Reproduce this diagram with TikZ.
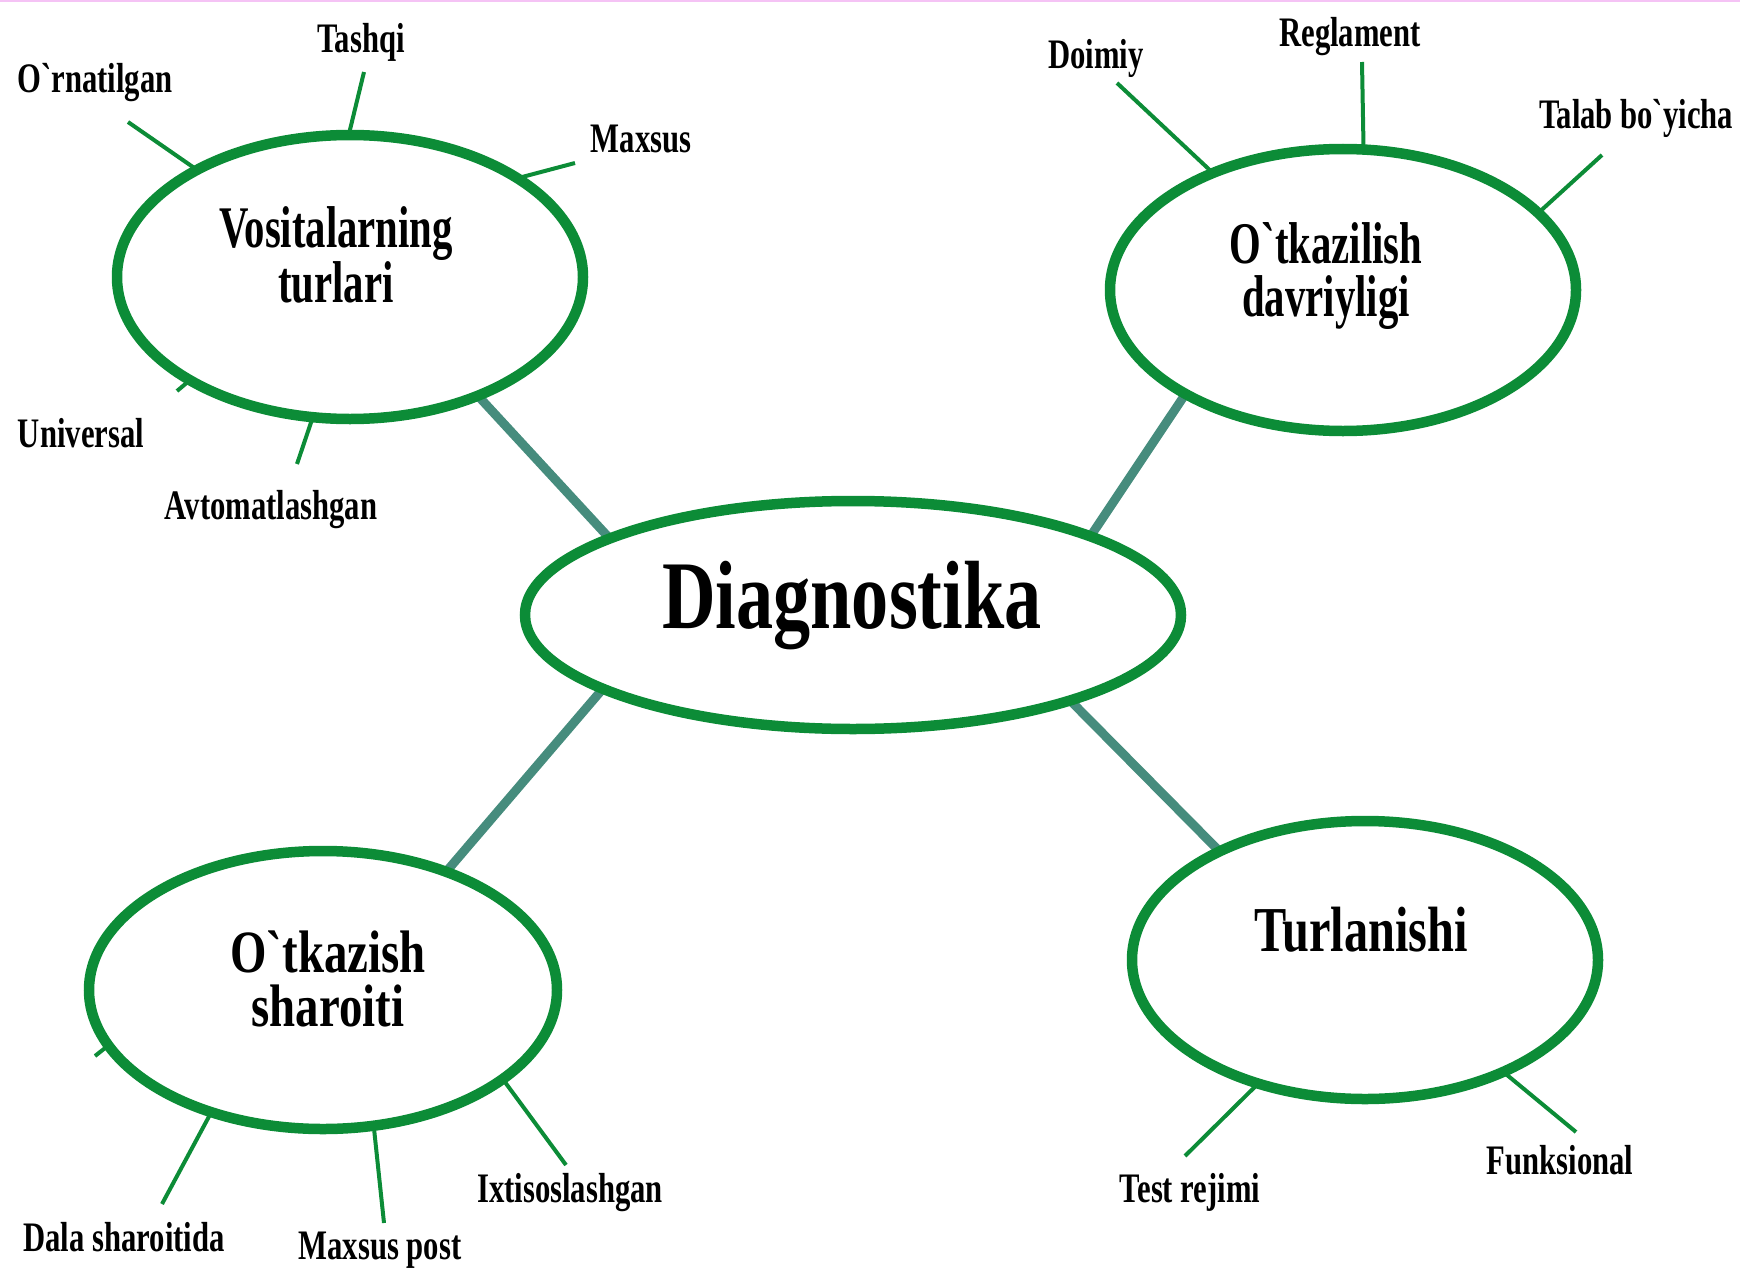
\documentclass[tikz,border=0pt]{standalone}
\usepackage{fontspec}
\usetikzlibrary{shapes.geometric,backgrounds}
\newfontfamily\fleaf[FakeStretch=0.73]{Liberation Serif}
\newfontfamily\fbigA[FakeStretch=0.69]{Liberation Serif}
\newfontfamily\fbigT[FakeStretch=0.755]{Liberation Serif}
\newfontfamily\fbigS[FakeStretch=0.78]{Liberation Serif}
\newfontfamily\fbigD[FakeStretch=0.765]{Liberation Serif}
\definecolor{grn}{RGB}{12,140,55}
\definecolor{tealc}{RGB}{70,140,125}
\definecolor{pinkl}{RGB}{245,195,245}
\begin{document}
\begin{tikzpicture}[x=1pt,y=-1pt,
  ell/.style={ellipse, draw=grn, line width=10.5pt, fill=white, inner sep=0pt},
  link/.style={draw=tealc, line width=9pt, shorten <=-5pt, shorten >=-5pt},
  leafline/.style={draw=grn, line width=4pt, shorten <=-4pt},
  leaf/.style={font=\fleaf\bfseries\fontsize{42}{42}\selectfont, anchor=base, inner sep=0pt},
  bigA/.style={font=\fbigA\bfseries\fontsize{59}{50}\selectfont, align=center, inner sep=0pt},
  bigS/.style={font=\fbigS\bfseries\fontsize{60}{54}\selectfont, align=center, inner sep=0pt},
  bigT/.style={font=\fbigT\bfseries\fontsize{64}{64}\selectfont, anchor=base, inner sep=0pt},
  bigD/.style={font=\fbigD\bfseries\fontsize{97}{97}\selectfont, anchor=base, inner sep=0pt}]
\useasboundingbox (0,0) rectangle (1740,1271);
\fill[pinkl] (0,0) rectangle (1740,2.5);

% ellipses
\node[ell, minimum width=466pt, minimum height=284pt] (V) at (350,277) {};
\node[ell, minimum width=466pt, minimum height=282pt] (OD) at (1343,290) {};
\node[ell, minimum width=656pt, minimum height=228pt] (D) at (853,615) {};
\node[ell, minimum width=468pt, minimum height=278pt] (OS) at (323,990) {};
\node[ell, minimum width=466pt, minimum height=278pt] (T) at (1365,960) {};

% titles
\node[bigA] (tV) at (336,255) {Vositalarning\\turlari};
\node[bigA] (tOD) at (1326,276.5) {O`tkazilish\\[3pt]davriyligi};
\node[bigD] (tD) at (852,628) {Diagnostika};
\node[bigS] (tOS) at (328,978.5) {O`tkazish\\sharoiti};
\node[bigT] (tT) at (1361,951) {Turlanishi};

% free ends of leaf lines
\coordinate (eTashqi) at (364,72);
\coordinate (eOrn) at (128,122);
\coordinate (eMax) at (575,163);
\coordinate (eUni) at (177,391);
\coordinate (eAvt) at (297,464);
\coordinate (eDoi) at (1117,83);
\coordinate (eReg) at (1362,62);
\coordinate (eTal) at (1602,155);
\coordinate (eDala) at (162,1204);
\coordinate (eMp) at (384,1223);
\coordinate (eIxt) at (566,1165);
\coordinate (eOSl) at (95,1056);
\coordinate (eTest) at (1185,1156);
\coordinate (eFun) at (1576,1132);

% leaf labels
\node[leaf] (lTashqi) at (361,53) {Tashqi};
\node[leaf] (lOrn) at (95,93) {O`rnatilgan};
\node[leaf] (lMax) at (641,153) {Maxsus};
\node[leaf] (lUni) at (81,447) {Universal};
\node[leaf] (lAvt) at (271,519) {Avtomatlashgan};
\node[leaf] (lDoi) at (1096,69) {Doimiy};
\node[leaf] (lReg) at (1350,47) {Reglament};
\node[leaf] (lTal) at (1636,129) {Talab bo`yicha};
\node[leaf] (lDala) at (124,1251) {Dala sharoitida};
\node[leaf] (lMp) at (380,1259) {Maxsus post};
\node[leaf] (lIxt) at (570,1202) {Ixtisoslashgan};
\node[leaf] (lTest) at (1190,1202) {Test rejimi};
\node[leaf] (lFun) at (1560,1174) {Funksional};

\begin{scope}[on background layer]
  \draw[link] (V.-43.8) -- (D.162.7);
  \draw[link] (OD.214.8) -- (D.19.5);
  \draw[link] (D.197.3) -- (OS.44.5);
  \draw[link] (D.-22.2) -- (T.143.5);

  \draw[leafline] (V.90) -- (eTashqi);
  \draw[leafline] (V.145.9) -- (eOrn);
  \draw[leafline] (V.30.7) -- (eMax);
  \draw[leafline] (V.213.6) -- (eUni);
  \draw[leafline] (V.-105) -- (eAvt);
  \draw[leafline] (OD.138.3) -- (eDoi);
  \draw[leafline] (OD.82.6) -- (eReg);
  \draw[leafline] (OD.22.9) -- (eTal);
  \draw[leafline] (OS.-132.7) -- (eDala);
  \draw[leafline] (OS.-70.5) -- (eMp);
  \draw[leafline] (OS.-27.7) -- (eIxt);
  \draw[leafline] (OS.195) -- (eOSl);
  \draw[leafline] (T.-131.3) -- (eTest);
  \draw[leafline] (T.-39.6) -- (eFun);
\end{scope}
\end{tikzpicture}
\end{document}
